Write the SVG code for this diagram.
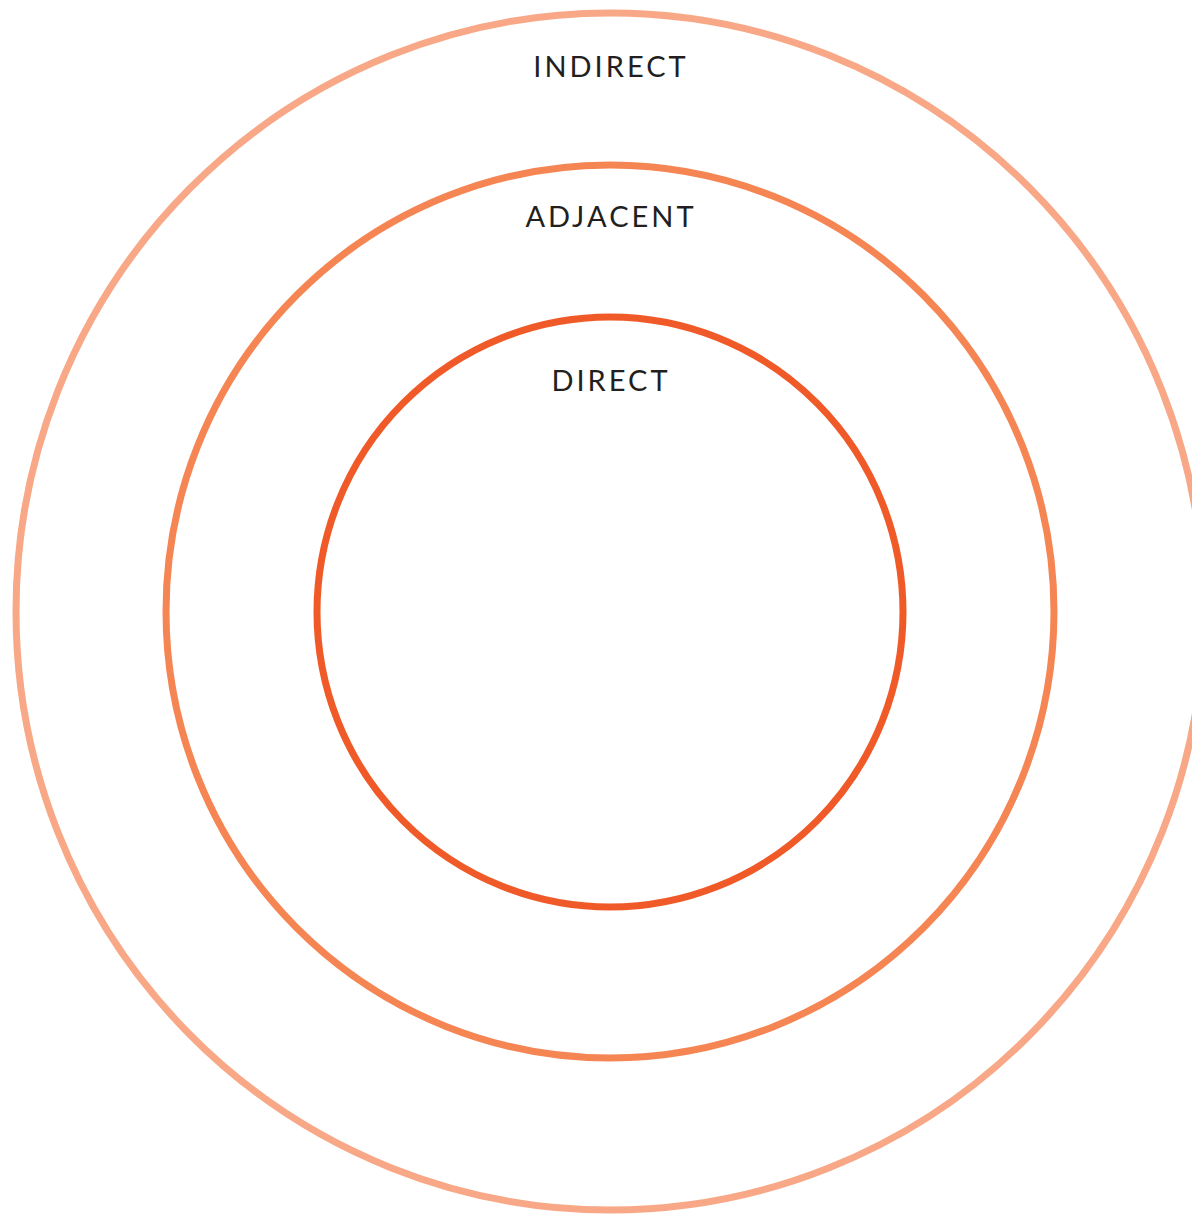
<svg xmlns="http://www.w3.org/2000/svg" width="1192" height="1214" viewBox="0 0 1192 1214">
<style>
.ring{fill:none;stroke-width:7}
.lbl{font-family:"Lato","Liberation Sans",sans-serif;font-size:29px;font-weight:400;fill:#231F20;text-anchor:middle;letter-spacing:3px}
</style>
<rect width="1192" height="1214" fill="#fff"/>
<g id="indirect"><ellipse class="ring" cx="610" cy="611.5" rx="594" ry="598.5" stroke="#F8A886"/><text class="lbl" x="611" y="77">INDIRECT</text></g>
<g id="adjacent"><ellipse class="ring" cx="610" cy="611.5" rx="444" ry="446.5" stroke="#F58654"/><text class="lbl" x="611" y="227">ADJACENT</text></g>
<g id="direct"><ellipse class="ring" cx="610" cy="612" rx="293" ry="295" stroke="#F05A28"/><text class="lbl" x="611" y="391">DIRECT</text></g>
<g id="connectors"/>
</svg>
